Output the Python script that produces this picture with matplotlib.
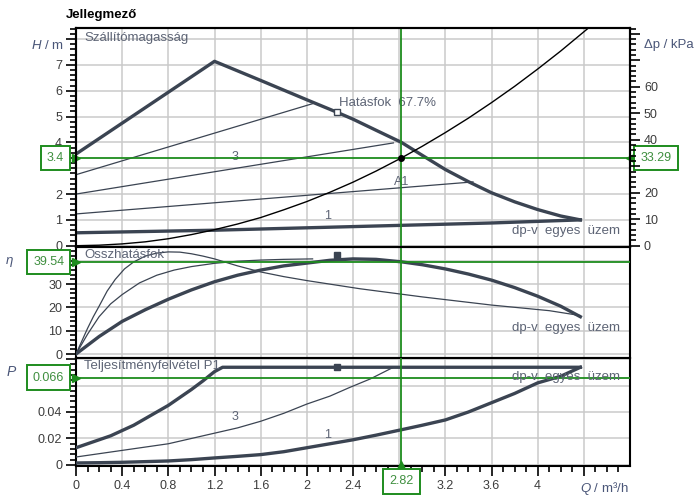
import matplotlib
matplotlib.use('Agg')
import matplotlib.pyplot as plt
from matplotlib.ticker import FixedLocator

plt.rcParams['font.family'] = ['Liberation Sans', 'DejaVu Sans']
plt.rcParams['mathtext.fontset'] = 'custom'
plt.rcParams['mathtext.it'] = 'Liberation Sans:italic'
plt.rcParams['mathtext.rm'] = 'Liberation Sans'

# ---- head curves (H / m over Q / m3/h)
q_hmax = [0, 1.2, 1.6, 2.0, 2.26, 2.4, 2.6, 2.82, 3.0, 3.2, 3.4, 3.6, 3.8, 4.0, 4.2, 4.37]
h_hmax = [3.55, 7.14, 6.4, 5.65, 5.17, 4.9, 4.47, 4.0, 3.5, 2.95, 2.48, 2.05, 1.7, 1.4,
          1.15, 1.0]
q_hmin = [0, 1.2, 2.4, 3.6, 4.37]
h_hmin = [0.5, 0.6, 0.74, 0.88, 1.0]
q_ha = [0, 2.05]
h_ha = [2.75, 5.5]
q_h3 = [0, 2.75]
h_h3 = [2.0, 3.98]
q_hc = [0, 3.44]
h_hc = [1.23, 2.47]
q_sys = [0, 0.2, 0.4, 0.6, 0.8, 1.0, 1.2, 1.4, 1.6, 1.8, 2.0, 2.2, 2.4, 2.6, 2.82,
         3.0, 3.2, 3.4, 3.6, 3.8, 4.0, 4.2, 4.44]
h_sys = [0, 0.02, 0.07, 0.15, 0.27, 0.43, 0.62, 0.84, 1.09, 1.39, 1.71, 2.07, 2.46,
         2.89, 3.4, 3.85, 4.38, 4.94, 5.54, 6.17, 6.84, 7.54, 8.43]

# ---- efficiency curves (eta / %)
q_emax = [0, 0.2, 0.4, 0.6, 0.8, 1.0, 1.2, 1.4, 1.6, 1.8, 2.0, 2.2, 2.4, 2.6, 2.82,
          3.0, 3.2, 3.4, 3.6, 3.8, 4.0, 4.2, 4.37]
e_emax = [0, 7.5, 14, 19, 23.5, 27.5, 31, 33.8, 36, 37.8, 39, 40.2, 40.8, 40.6, 39.54,
          38.3, 36.5, 34.3, 31.7, 28.5, 24.8, 20.5, 16]
q_emin = [0, 0.05, 0.1, 0.15, 0.2, 0.27, 0.34, 0.42, 0.5, 0.6, 0.7, 0.8, 0.9, 1.0,
          1.1, 1.2, 1.4, 1.6, 1.8, 2.0, 2.46, 3.0, 3.6, 4.1, 4.37]
e_emin = [0, 5.5, 11, 16, 20.5, 27, 32, 36.5, 39.5, 42, 43.3, 43.8, 43.7, 43, 42, 40.8,
          37.8, 35.2, 33.2, 31.5, 28, 24.5, 21, 18.6, 16.5]
q_emid = [0, 0.1, 0.2, 0.3, 0.4, 0.55, 0.7, 0.85, 1.0, 1.2, 1.4, 1.6, 1.8, 2.05]
e_emid = [0, 8.5, 16, 21.5, 25.5, 30.5, 33.8, 36, 37.5, 38.9, 39.8, 40.3, 40.6, 40.8]

# ---- power curves (P1 / kW)
q_pmax = [0, 0.1, 0.2, 0.3, 0.4, 0.5, 0.6, 0.7, 0.8, 0.9, 1.0, 1.1, 1.2, 1.27, 4.37]
p_pmax = [0.013, 0.016, 0.019, 0.022, 0.026, 0.030, 0.035, 0.040, 0.045, 0.051, 0.057,
          0.0635, 0.0705, 0.0738, 0.0738]
q_p3 = [0, 0.2, 0.4, 0.6, 0.8, 1.0, 1.2, 1.4, 1.6, 1.8, 2.0, 2.2, 2.37, 2.55, 2.75]
p_p3 = [0.006, 0.0085, 0.011, 0.0135, 0.016, 0.020, 0.024, 0.028, 0.033, 0.039, 0.046,
        0.052, 0.0585, 0.065, 0.0738]
q_pmin = [0, 0.2, 0.4, 0.6, 0.8, 1.0, 1.2, 1.4, 1.6, 1.8, 2.0, 2.2, 2.4, 2.6, 2.82,
          3.0, 3.2, 3.4, 3.6, 3.8, 4.0, 4.2, 4.37]
p_pmin = [0.0015, 0.0017, 0.002, 0.0025, 0.003, 0.004, 0.0053, 0.0065, 0.0078, 0.010,
          0.013, 0.016, 0.019, 0.0225, 0.0266, 0.030, 0.034, 0.040, 0.047, 0.054,
          0.062, 0.067, 0.0738]

# operating point
q_op = 2.82
h_op = 3.4
dp_op = 33.29
eta_op = 39.54
p_op = 0.066
q_mark = 2.26

CURVE = '#3b4452'
GREEN = '#1e8c1e'
TXT = '#5d6475'
LBL = '#4a5678'
GRID = '#cacaca'

fig = plt.figure(figsize=(7.0, 4.97), dpi=100)
FW, FH = 700.0, 497.0


def rect(x0, y0, x1, y1):
    return [x0 / FW, 1 - y1 / FH, (x1 - x0) / FW, (y1 - y0) / FH]


ax_h = fig.add_axes(rect(76, 28, 630, 247))
ax_e = fig.add_axes(rect(76, 247, 630, 358), sharex=ax_h)
ax_p = fig.add_axes(rect(76, 358, 630, 466), sharex=ax_h)
ax_dp = ax_h.twinx()

for ax in (ax_h, ax_e, ax_p, ax_dp):
    for s in ax.spines.values():
        s.set_linewidth(1.5)
        s.set_color('black')
    ax.tick_params(which='both', direction='out', labelsize=9, labelcolor='#3c3c3c',
                   width=1.2)
    ax.tick_params(which='major', length=7, pad=3)
    ax.tick_params(which='minor', length=4)

ax_h.set_xlim(0, 4.8)
xt = [0, 0.4, 0.8, 1.2, 1.6, 2.0, 2.4, 2.8, 3.2, 3.6, 4.0, 4.4]
ax_p.set_xticks(xt, ['0', '0.4', '0.8', '1.2', '1.6', '2', '2.4', '', '3.2', '3.6', '4', ''])
ax_p.xaxis.set_minor_locator(FixedLocator([i / 10 for i in range(48) if i % 4]))
for ax in (ax_h, ax_e):
    ax.tick_params(axis='x', which='both', bottom=False, labelbottom=False)

# y axes
ax_h.set_ylim(-0.05, 8.43)
ax_h.set_yticks(range(9), ['0', '1', '2', '', '4', '5', '6', '7', ''])
ax_h.yaxis.set_minor_locator(FixedLocator([i / 5 for i in range(43)]))
ax_dp.set_ylim(-0.5, 82.2)
ax_dp.set_yticks(range(0, 90, 10), ['0', '10', '20', '', '40', '50', '60', '', ''])
ax_dp.yaxis.set_minor_locator(FixedLocator(list(range(0, 83, 2))))
ax_e.set_ylim(-1.7, 45.9)
ax_e.set_yticks([0, 10, 20, 30, 40], ['0', '10', '20', '30', ''])
ax_e.yaxis.set_minor_locator(FixedLocator(list(range(0, 46, 2))))
ax_p.set_ylim(-0.0008, 0.0808)
ax_p.set_yticks([0, 0.02, 0.04, 0.06, 0.08], ['0', '0.02', '0.04', '', ''])
ax_p.yaxis.set_minor_locator(FixedLocator([i * 0.004 for i in range(21)]))
ax_e.tick_params(axis='y', which='both', right=False)
ax_p.tick_params(axis='y', which='both', right=False)

for ax in (ax_h, ax_e, ax_p):
    ax.grid(True, which='major', color=GRID, lw=1.1, zorder=0)
    ax.set_axisbelow(True)

# ---- top panel curves
ax_h.plot(q_hmax, h_hmax, color=CURVE, lw=2.4, zorder=3, solid_joinstyle='round')
ax_h.plot(q_hmin, h_hmin, color=CURVE, lw=2.4, zorder=3)
for qq, hh in ((q_ha, h_ha), (q_h3, h_h3), (q_hc, h_hc)):
    ax_h.plot(qq, hh, color=CURVE, lw=0.9, zorder=3)
ax_h.plot(q_sys, h_sys, color='black', lw=1.0, zorder=3)
ax_h.plot([q_mark], [5.17], marker='s', ms=4, mfc='white', mec=CURVE, mew=1, zorder=4)
ax_h.plot([q_op], [h_op], 'o', color='black', ms=4, zorder=6)

# ---- middle panel curves
ax_e.plot(q_emax, e_emax, color=CURVE, lw=2.4, zorder=3, solid_joinstyle='round')
ax_e.plot(q_emin, e_emin, color=CURVE, lw=0.9, zorder=3)
ax_e.plot(q_emid, e_emid, color=CURVE, lw=0.9, zorder=3)
ax_e.plot([q_mark], [42.6], marker='s', ms=4, color=CURVE, zorder=4)

# ---- bottom panel curves
ax_p.plot(q_pmax, p_pmax, color=CURVE, lw=2.4, zorder=3, solid_joinstyle='round')
ax_p.plot(q_p3, p_p3, color=CURVE, lw=0.9, zorder=3)
ax_p.plot(q_pmin, p_pmin, color=CURVE, lw=2.4, zorder=3, solid_joinstyle='round')
ax_p.plot([q_mark], [0.0738], marker='s', ms=5, color=CURVE, zorder=4)

# ---- operating point guides
for ax, yv in ((ax_h, h_op), (ax_e, eta_op), (ax_p, p_op)):
    ax.axvline(q_op, color=GREEN, lw=1.3, zorder=5)
    ax.axhline(yv, color=GREEN, lw=1.3, zorder=5)
    ax.plot([0], [yv], marker='>', ms=6, color=GREEN, clip_on=False, zorder=7)
ax_h.plot([4.8], [h_op], marker='<', ms=6, color=GREEN, clip_on=False, zorder=7)
ax_p.plot([q_op], [-0.0008], marker='^', ms=7, color=GREEN, clip_on=False, zorder=7)

box = dict(boxstyle='square,pad=0.5', fc='white', ec=GREEN, lw=1.4)
bfont = dict(fontsize=9, color='#3f8f3f')
for ax, yv, s in ((ax_h, h_op, '3.4'), (ax_e, eta_op, '39.54'), (ax_p, p_op, '0.066')):
    ax.annotate(s, xy=(0, yv), xycoords=('axes fraction', 'data'), xytext=(-8.5, 0),
                textcoords='offset points', ha='right', va='center', bbox=box,
                annotation_clip=False, zorder=8, **bfont)
ax_h.annotate(f'{dp_op:.2f}', xy=(1, h_op), xycoords=('axes fraction', 'data'),
              xytext=(7.5, 0), textcoords='offset points', ha='left', va='center',
              bbox=box, annotation_clip=False, zorder=8, **bfont)
ax_p.annotate(f'{q_op:.2f}', xy=(q_op, 0), xycoords=('data', 'axes fraction'),
              xytext=(0, -11), textcoords='offset points', ha='center', va='center',
              bbox=box, annotation_clip=False, zorder=8, **bfont)

# ---- texts
fig.text(66 / FW, 1 - 15 / FH, 'Jellegmező', fontsize=9.5, fontweight='bold',
         va='center', ha='left')
ax_h.text(0.015, 0.955, 'Szállítómagasság', transform=ax_h.transAxes, fontsize=9.5,
          color=TXT, va='center')
ax_e.text(0.015, 0.93, 'Összhatásfok', transform=ax_e.transAxes, fontsize=9.5,
          color=TXT, va='center')
ax_p.text(0.015, 0.93, 'Teljesítményfelvétel P1', transform=ax_p.transAxes,
          fontsize=9.5, color=TXT, va='center')
ax_h.text(2.28, 5.53, 'Hatásfok  67.7%', fontsize=9.5, color=TXT, va='center')
ax_h.text(1.38, 3.44, '3', fontsize=9, color=TXT, ha='center', va='center')
ax_h.text(2.18, 1.15, '1', fontsize=9, color=TXT, ha='center', va='center')
ax_h.text(q_op, 2.45, 'A1', fontsize=9, color=TXT, ha='center', va='center')
ax_p.text(1.38, 0.0365, '3', fontsize=9, color=TXT, ha='center', va='center')
ax_p.text(2.18, 0.0225, '1', fontsize=9, color=TXT, ha='center', va='center')
for ax, yv in ((ax_h, 0.57), (ax_e, 11.1), (ax_p, 0.0664)):
    ax.text(4.71, yv, 'dp-v  egyes  üzem', fontsize=9.5, color=TXT, ha='right',
            va='center', zorder=6)

ax_h.annotate('$H$ / m', xy=(0, 7.77), xycoords=('axes fraction', 'data'),
              xytext=(-9, 0), textcoords='offset points', ha='right', va='center',
              fontsize=9.5, color=LBL, annotation_clip=False)
ax_h.annotate('Δp / kPa', xy=(1, 7.77), xycoords=('axes fraction', 'data'),
              xytext=(10, 0), textcoords='offset points', ha='left', va='center',
              fontsize=9.5, color=LBL, annotation_clip=False)
ax_e.annotate('$\\eta$', xy=(0, eta_op), xycoords=('axes fraction', 'data'),
              xytext=(-45, 0), textcoords='offset points', ha='right', va='center',
              fontsize=9.5, color=LBL, annotation_clip=False)
ax_p.annotate('$P$', xy=(0, 0.0705), xycoords=('axes fraction', 'data'),
              xytext=(-42, 0), textcoords='offset points', ha='right', va='center',
              fontsize=10, color=LBL, annotation_clip=False)
ax_p.annotate('$Q$ / m³/h', xy=(4.58, 0), xycoords=('data', 'axes fraction'),
              xytext=(0, -16), textcoords='offset points', ha='center', va='center',
              fontsize=9.5, color=LBL, annotation_clip=False)

fig.savefig('out.png', dpi=100)
